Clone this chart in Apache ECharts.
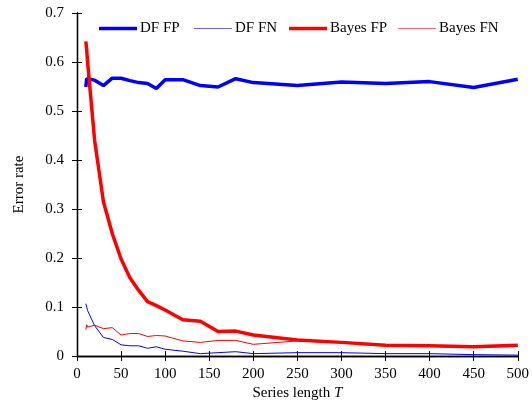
<!DOCTYPE html>
<html><head><meta charset="utf-8">
<script src="https://cdn.jsdelivr.net/npm/echarts@6/dist/echarts.min.js"></script>
<style>html,body{margin:0;padding:0;background:#fff;overflow:hidden}#c{width:532px;height:406px}</style>
</head><body><div id="c"></div>
<script>
const T = [10, 11, 12, 20, 30, 40, 50, 60, 70, 80, 90, 100, 120, 140, 160, 180, 200, 250, 300, 350, 400, 450, 500];
const dfFP = [0.549, 0.566, 0.565, 0.563, 0.552, 0.567, 0.567, 0.562, 0.558, 0.556, 0.546, 0.564, 0.564, 0.552, 0.549, 0.566, 0.558, 0.552, 0.559, 0.556, 0.560, 0.548, 0.565];
const dfFN = [0.107, 0.100, 0.093, 0.062, 0.038, 0.034, 0.023, 0.021, 0.021, 0.016, 0.019, 0.014, 0.010, 0.005, 0.007, 0.009, 0.005, 0.007, 0.007, 0.005, 0.005, 0.003, 0.002];
const bayesFP = [0.642, 0.625, 0.600, 0.440, 0.315, 0.250, 0.198, 0.160, 0.134, 0.111, 0.103, 0.094, 0.074, 0.071, 0.050, 0.051, 0.043, 0.033, 0.028, 0.022, 0.021, 0.019, 0.022];
const bayesFN = [0.054, 0.064, 0.059, 0.063, 0.056, 0.058, 0.043, 0.046, 0.046, 0.040, 0.042, 0.041, 0.031, 0.028, 0.032, 0.032, 0.024, 0.031, 0.027, 0.023, 0.020, 0.018, 0.020];
const seriesNames = ['DF FP', 'DF FN', 'Bayes FP', 'Bayes FN'];
const xTicks = [0, 50, 100, 150, 200, 250, 300, 350, 400, 450, 500];
const yTicks = [0, 0.1, 0.2, 0.3, 0.4, 0.5, 0.6, 0.7];

const FONT = 'Liberation Serif';
const pairs = arr => T.map((t, i) => [t, arr[i]]);
const axLine = {show: true, lineStyle: {color: '#000', width: 1.3}};
const tick = {show: true, inside: true, length: 5, lineStyle: {color: '#000', width: 1}};
const lbl = {fontFamily: FONT, fontSize: 15, color: '#000'};
const colors = ['#0000ff', '#0000ff', '#ff0000', '#ff0000'];
const widths = [3.5, 1, 3.5, 1];
const legendLeft = [99, 194, 289, 398];

const chart = echarts.init(document.getElementById('c'), null, {renderer: 'canvas', width: 532, height: 406});
chart.setOption({
  animation: false,
  backgroundColor: '#fff',
  grid: {left: 77, right: 12, top: 13, bottom: 44, containLabel: false},
  legend: seriesNames.map((n, i) => ({
    left: legendLeft[i], top: 21, itemWidth: 38, itemHeight: 14, padding: 0,
    icon: 'path://M0,0L38,0L38,' + widths[i] + 'L0,' + widths[i] + 'Z',
    itemStyle: {color: colors[i], opacity: i % 2 ? 0.6 : 1},
    textStyle: {fontFamily: FONT, fontSize: 15, color: '#000', lineHeight: 14, padding: [0, 0, 0, -2]},
    data: [n]
  })),
  xAxis: [
    {type: 'value', min: xTicks[0], max: xTicks[xTicks.length - 1], interval: 50, position: 'bottom',
     axisLine: axLine, axisTick: tick, splitLine: {show: false},
     axisLabel: Object.assign({margin: 10}, lbl),
     name: 'Series length {i|T}', nameLocation: 'middle', nameGap: 28,
     nameTextStyle: {fontFamily: FONT, fontSize: 15, color: '#000',
       rich: {i: {fontFamily: FONT, fontSize: 15, fontStyle: 'italic', color: '#000'}}}},
    {type: 'value', min: 0, max: 500, interval: 50, position: 'top',
     axisLine: axLine, axisTick: tick, splitLine: {show: false}, axisLabel: {show: false}}
  ],
  yAxis: [
    {type: 'value', min: yTicks[0], max: yTicks[yTicks.length - 1], interval: 0.1, position: 'left',
     axisLine: axLine, axisTick: tick, splitLine: {show: false},
     axisLabel: Object.assign({margin: 13, formatter: v => String(+v.toFixed(1))}, lbl),
     name: 'Error rate', nameLocation: 'middle', nameGap: 50,
     nameTextStyle: {fontFamily: FONT, fontSize: 15, color: '#000'}},
    {type: 'value', min: 0, max: 0.7, interval: 0.1, position: 'right',
     axisLine: axLine, axisTick: tick, splitLine: {show: false}, axisLabel: {show: false}}
  ],
  series: seriesNames.map((n, i) => ({
    name: n, type: 'line', data: pairs([dfFP, dfFN, bayesFP, bayesFN][i]), showSymbol: false, symbol: 'none',
    lineStyle: {color: colors[i], width: widths[i]}, itemStyle: {color: colors[i]}
  }))
});
</script></body></html>
